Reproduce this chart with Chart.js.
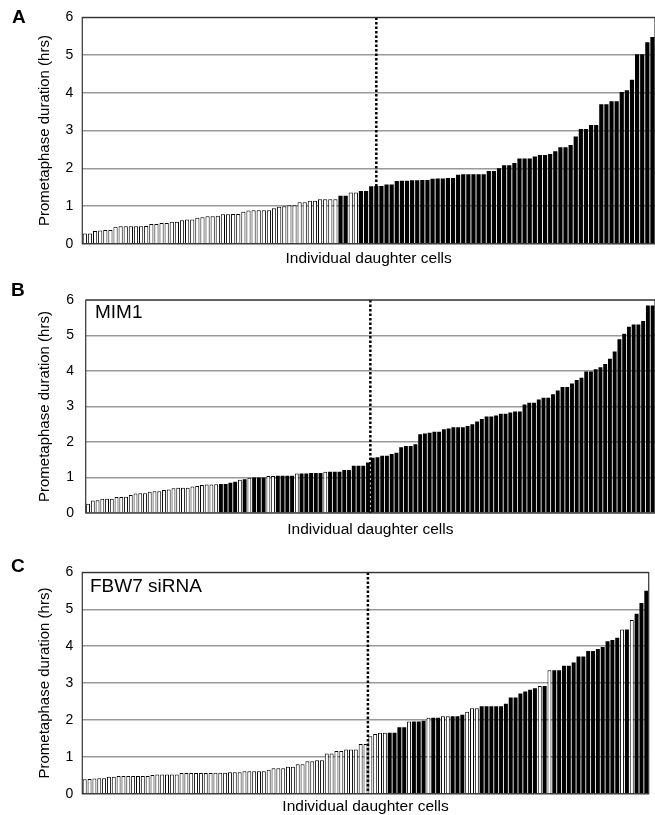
<!DOCTYPE html>
<html>
<head>
<meta charset="utf-8">
<script src="https://cdn.jsdelivr.net/npm/chart.js@4"></script>
<style>
  html, body { margin: 0; padding: 0; background: #fff; overflow: hidden; }
  body { width: 655px; height: 815px; position: relative; font-family: "Liberation Sans", Arial, sans-serif; color: #000; }
  .panel { position: absolute; left: 0; }
  .panel canvas { display: block; }
  .letter { position: absolute; font-weight: bold; font-size: 19px; line-height: 1; }
  .inset { position: absolute; font-size: 19px; line-height: 1; }
</style>
</head>
<body>

<div class="panel" style="top:0px"><canvas id="chart-a" width="655" height="280"></canvas></div>
<div class="panel" style="top:280px"><canvas id="chart-b" width="655" height="275"></canvas></div>
<div class="panel" style="top:555px"><canvas id="chart-c" width="655" height="270"></canvas></div>

<div class="letter" style="left:12px; top:7px">A</div>
<div class="letter" style="left:11px; top:280px">B</div>
<div class="letter" style="left:11px; top:556px">C</div>
<div class="inset" style="left:95px; top:302px">MIM1</div>
<div class="inset" style="left:90px; top:576px">FBW7 siRNA</div>

<script>
// Duração da prometáfase (horas) de cada célula filha, já ordenada
const durationsA = [
  0.27, 0.27, 0.34, 0.35, 0.36, 0.36, 0.45, 0.46, 0.46, 0.46,
  0.46, 0.46, 0.47, 0.52, 0.52, 0.55, 0.55, 0.58, 0.58, 0.62,
  0.64, 0.64, 0.69, 0.70, 0.73, 0.73, 0.74, 0.78, 0.78, 0.79,
  0.79, 0.85, 0.88, 0.89, 0.89, 0.89, 0.89, 0.94, 0.98, 0.99,
  1.02, 1.02, 1.10, 1.10, 1.14, 1.14, 1.18, 1.18, 1.18, 1.18,
  1.27, 1.27, 1.36, 1.36, 1.40, 1.40, 1.52, 1.53, 1.53, 1.57,
  1.57, 1.66, 1.67, 1.67, 1.68, 1.68, 1.69, 1.69, 1.72, 1.73,
  1.73, 1.74, 1.74, 1.83, 1.84, 1.84, 1.84, 1.84, 1.84, 1.93,
  1.93, 2.00, 2.08, 2.08, 2.14, 2.26, 2.26, 2.26, 2.31, 2.35,
  2.35, 2.38, 2.45, 2.56, 2.56, 2.62, 2.84, 3.04, 3.04, 3.15,
  3.15, 3.70, 3.70, 3.78, 3.78, 4.02, 4.07, 4.35, 5.02, 5.02,
  5.34, 5.48
];
// faixas de índices com barra branca (o resto é preto)
const whiteA = [[0, 49], [52, 53]];
const splitA = 57;

const durationsB = [
  0.26, 0.35, 0.36, 0.40, 0.40, 0.40, 0.45, 0.45, 0.46, 0.51,
  0.55, 0.56, 0.56, 0.60, 0.61, 0.61, 0.65, 0.66, 0.70, 0.71,
  0.71, 0.71, 0.75, 0.76, 0.79, 0.80, 0.80, 0.81, 0.82, 0.82,
  0.85, 0.88, 0.94, 0.95, 0.99, 1.00, 1.00, 1.00, 1.04, 1.04,
  1.05, 1.05, 1.05, 1.05, 1.11, 1.11, 1.11, 1.13, 1.13, 1.13,
  1.16, 1.16, 1.16, 1.16, 1.21, 1.21, 1.33, 1.33, 1.33, 1.42,
  1.56, 1.57, 1.61, 1.61, 1.66, 1.70, 1.85, 1.89, 1.89, 1.94,
  2.22, 2.24, 2.26, 2.29, 2.29, 2.36, 2.38, 2.42, 2.42, 2.42,
  2.45, 2.50, 2.58, 2.65, 2.72, 2.72, 2.75, 2.80, 2.80, 2.83,
  2.86, 2.86, 3.06, 3.11, 3.11, 3.20, 3.25, 3.25, 3.35, 3.45,
  3.55, 3.55, 3.65, 3.75, 3.81, 3.99, 3.99, 4.05, 4.11, 4.20,
  4.35, 4.55, 4.90, 5.05, 5.25, 5.31, 5.31, 5.41, 5.85, 5.85
];
const whiteB = [[0, 27], [32, 32], [34, 34], [38, 39], [44, 44], [50, 50]];
const splitB = 59.5;

const durationsC = [
  0.39, 0.40, 0.41, 0.42, 0.42, 0.46, 0.46, 0.48, 0.48, 0.48,
  0.48, 0.48, 0.48, 0.48, 0.51, 0.52, 0.52, 0.52, 0.52, 0.52,
  0.56, 0.56, 0.56, 0.56, 0.56, 0.56, 0.56, 0.57, 0.57, 0.57,
  0.58, 0.58, 0.58, 0.61, 0.61, 0.61, 0.61, 0.61, 0.65, 0.69,
  0.69, 0.69, 0.73, 0.73, 0.80, 0.80, 0.88, 0.88, 0.91, 0.91,
  1.09, 1.09, 1.16, 1.16, 1.20, 1.20, 1.20, 1.35, 1.35, 1.56,
  1.62, 1.65, 1.65, 1.65, 1.65, 1.80, 1.80, 1.96, 1.96, 1.96,
  1.98, 2.06, 2.06, 2.06, 2.10, 2.10, 2.10, 2.10, 2.14, 2.22,
  2.32, 2.32, 2.37, 2.37, 2.37, 2.37, 2.37, 2.44, 2.61, 2.61,
  2.72, 2.77, 2.82, 2.86, 2.92, 2.92, 3.35, 3.35, 3.35, 3.47,
  3.47, 3.56, 3.72, 3.72, 3.87, 3.87, 3.92, 3.98, 4.13, 4.17,
  4.23, 4.45, 4.45, 4.71, 4.88, 5.17, 5.50
];
const whiteC = [[0, 62], [67, 67], [71, 71], [74, 75], [79, 81], [94, 94], [96, 96], [111, 111], [113, 113]];
const splitC = 58.5;

const yTicks = [0, 1, 2, 3, 4, 5, 6];
const yTitle = "Prometaphase duration (hrs)";
const xTitle = "Individual daughter cells";

function isWhite(i, ranges) {
  return ranges.some((r) => i >= r[0] && i <= r[1]);
}

// moldura do gráfico + linha pontilhada vertical
const framePlugin = {
  id: "frame",
  afterDatasetsDraw(chart, args, opts) {
    const { ctx, chartArea: a, scales } = chart;
    const xs = scales.x.getPixelForValue(opts.split);
    ctx.save();
    ctx.strokeStyle = "#000";
    ctx.lineWidth = 2.5;
    ctx.setLineDash([2.5, 2]);
    ctx.beginPath();
    ctx.moveTo(xs, a.top);
    ctx.lineTo(xs, a.bottom);
    ctx.stroke();
    ctx.setLineDash([]);
    ctx.lineWidth = 1.2;
    ctx.strokeStyle = "#333";
    ctx.strokeRect(a.left, a.top, a.right - a.left, a.bottom - a.top);
    ctx.restore();
  },
};

function makeChart(id, values, whites, split, geo) {
  const labels = values.map((v, i) => String(i + 1));
  const white = values.map((v, i) => isWhite(i, whites));
  const ctx = document.getElementById(id).getContext("2d");
  return new Chart(ctx, {
    type: "bar",
    data: {
      labels: labels,
      datasets: [
        {
          data: values,
          backgroundColor: white.map((w) => (w ? "#fff" : "#000")),
          borderColor: "#000",
          borderWidth: white.map((w) => (w ? 1 : 0)),
          barPercentage: 0.82,
          categoryPercentage: 1,
        },
      ],
    },
    options: {
      responsive: false,
      animation: false,
      events: [],
      layout: { padding: { top: geo.padTop, right: geo.padRight, left: 0, bottom: 0 } },
      plugins: {
        legend: { display: false },
        tooltip: { enabled: false },
        frame: { split: split },
      },
      scales: {
        x: {
          ticks: { display: false },
          grid: { display: false },
          border: { display: false },
          title: {
            display: true,
            text: xTitle,
            color: "#000",
            font: { family: "Liberation Sans", size: 15.5 },
            padding: { top: 0, bottom: geo.xTitlePad },
          },
          afterFit: (scale) => { scale.height = geo.xHeight; },
        },
        y: {
          min: 0,
          max: 6,
          afterBuildTicks: (scale) => { scale.ticks = yTicks.map((v) => ({ value: v })); },
          ticks: {
            color: "#000",
            padding: geo.tickPad,
            font: { family: "Liberation Sans", size: 14 },
          },
          grid: { color: "#999", lineWidth: 1.5, drawTicks: false },
          border: { display: false },
          title: {
            display: true,
            text: yTitle,
            color: "#000",
            font: { family: "Liberation Sans", size: 15 },
            padding: { top: 35.8, bottom: 0 },
          },
          afterFit: (scale) => { scale.width = geo.yWidth; },
        },
      },
    },
    plugins: [framePlugin],
  });
}

makeChart("chart-a", durationsA, whiteA, splitA, {
  padTop: 14.3, padRight: 0, yWidth: 82.3, xHeight: 36.3, tickPad: 9, xTitlePad: 11.5,
});
makeChart("chart-b", durationsB, whiteB, splitB, {
  padTop: 13.3, padRight: 0, yWidth: 85.7, xHeight: 42, tickPad: 11.7, xTitlePad: 16,
});
makeChart("chart-c", durationsC, whiteC, splitC, {
  padTop: 12, padRight: 6.3, yWidth: 82.3, xHeight: 31.3, tickPad: 9, xTitlePad: 9,
});
</script>
</body>
</html>
